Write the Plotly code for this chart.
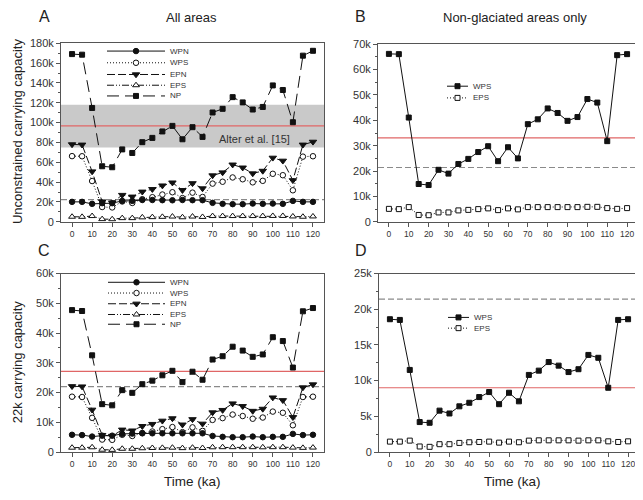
import plotly.graph_objects as go

# ---------------- data (values in thousands of individuals) ----------------
time_ka = [0, 5, 10, 15, 20, 25, 30, 35, 40, 45, 50, 55, 60, 65, 70, 75, 80, 85, 90, 95, 100, 105, 110, 115, 120]

# Unconstrained carrying capacity
unc_wpn = [20.1, 20.1, 18.1, 18.8, 18.8, 21.1, 21.1, 22.0, 22.0, 21.8, 21.7, 22.0, 21.8, 21.8, 19.1, 18.1, 17.8, 17.8, 18.4, 18.1, 18.4, 18.1, 21.1, 20.1, 20.1]
unc_wps = [66.2, 66.1, 41.1, 14.9, 14.5, 20.5, 19.0, 22.8, 24.8, 27.5, 29.8, 23.9, 29.4, 25.0, 38.5, 40.4, 44.7, 42.9, 39.8, 41.3, 48.4, 47.0, 31.8, 65.7, 66.1]
unc_epn = [78.0, 77.7, 50.7, 20.4, 19.4, 27.0, 25.3, 30.3, 32.9, 36.5, 39.5, 31.9, 38.8, 33.6, 46.7, 49.7, 57.6, 54.6, 48.7, 51.3, 64.5, 61.5, 41.8, 77.7, 80.6]
unc_eps = [5.1, 5.0, 5.8, 2.7, 2.6, 3.7, 3.7, 4.5, 4.7, 5.0, 5.3, 4.6, 5.3, 4.9, 5.8, 5.8, 5.8, 5.8, 5.8, 5.8, 5.9, 5.9, 5.4, 5.1, 5.4]
unc_np = [169.1, 168.5, 114.8, 56.0, 55.0, 73.0, 69.4, 80.3, 84.6, 91.1, 96.7, 83.2, 95.4, 85.6, 110.2, 113.9, 125.7, 120.4, 113.2, 115.8, 137.5, 132.9, 100.4, 167.5, 172.4]

# 22k carrying capacity
k22_wpn = [5.8, 5.7, 5.2, 5.5, 5.5, 6.1, 6.2, 6.3, 6.3, 6.3, 6.3, 6.3, 6.3, 6.3, 5.4, 5.1, 5.0, 5.0, 5.2, 5.0, 5.1, 5.1, 6.1, 5.7, 5.8]
k22_wps = [18.6, 18.5, 11.5, 4.2, 4.1, 5.8, 5.4, 6.4, 6.9, 7.7, 8.4, 6.7, 8.3, 7.1, 10.8, 11.4, 12.6, 12.1, 11.2, 11.6, 13.6, 13.2, 9.0, 18.5, 18.6]
k22_epn = [22.1, 22.0, 14.2, 5.7, 5.4, 7.5, 7.2, 8.7, 9.4, 10.5, 11.3, 9.2, 11.0, 9.5, 13.3, 14.1, 16.3, 15.4, 13.8, 14.5, 18.3, 17.4, 11.7, 21.7, 22.7]
k22_eps = [1.46, 1.46, 1.6, 0.78, 0.73, 1.1, 1.1, 1.28, 1.37, 1.41, 1.46, 1.32, 1.46, 1.37, 1.6, 1.64, 1.64, 1.64, 1.64, 1.6, 1.64, 1.64, 1.5, 1.41, 1.5]
k22_np = [47.7, 47.4, 32.5, 16.1, 15.7, 20.8, 19.9, 22.8, 24.0, 25.8, 27.3, 23.5, 27.0, 24.3, 31.1, 32.2, 35.4, 34.1, 32.0, 32.8, 38.6, 37.3, 28.4, 47.3, 48.4]

# reference levels (thousands)
alter_low = 75.0
alter_high = 118.0
ref_red = {"A": 96.8, "B": 33.1, "C": 27.1, "D": 9.0}
ref_dashed = {"A": 22.4, "B": 21.4, "C": 22.0, "D": 21.4}

y_max = {"A": 180, "B": 70, "C": 60, "D": 25}
y_dtick = {"A": 20, "B": 10, "C": 10, "D": 5}

K = 1000.0

def k(vals):
    return [v * K for v in vals]

# ---------------- layout helpers ----------------
# page is 643x500; browser body margin of 8px offsets the figure
PAGE_W, PAGE_H = 643, 500
OFF = 8
W, H = PAGE_W - OFF, PAGE_H - OFF
FONT = "Liberation Sans, Arial, Helvetica, sans-serif"
AX = "#555555"
INK = "#111111"

def px_x(x):
    return (x - OFF) / W

def px_y(y):
    return (H - (y - OFF)) / H

def xd(l, r):
    return [px_x(l), px_x(r)]

def yd(top, bottom):
    return [px_y(bottom), px_y(top)]

panels = {
    "A": dict(xa="x", ya="y", xdom=xd(61, 324), ydom=yd(38, 221)),
    "B": dict(xa="x2", ya="y2", xdom=xd(378, 638), ydom=yd(39, 221)),
    "C": dict(xa="x3", ya="y3", xdom=xd(61, 324), ydom=yd(274, 457)),
    "D": dict(xa="x4", ya="y4", xdom=xd(379, 639), ydom=yd(274, 457)),
}

styles = {
    "WPN": dict(line=dict(color=INK, width=1),
                marker=dict(symbol="circle", size=5.5, color=INK, line=dict(color=INK, width=1))),
    "WPS": dict(line=dict(color=INK, width=1, dash="1px,2px"),
                marker=dict(symbol="circle", size=5.5, color="white", line=dict(color=INK, width=1))),
    "EPN": dict(line=dict(color=INK, width=1, dash="8px,3px"),
                marker=dict(symbol="triangle-down", size=6.5, color=INK, line=dict(color=INK, width=1))),
    "EPS": dict(line=dict(color=INK, width=1, dash="7px,2px,1px,2px,1px,2px"),
                marker=dict(symbol="triangle-up", size=6, color="white", line=dict(color=INK, width=1))),
    "NP": dict(line=dict(color=INK, width=1, dash="12px,6px"),
               marker=dict(symbol="square", size=5, color=INK, line=dict(color=INK, width=1))),
    "WPS_ng": dict(line=dict(color=INK, width=1),
                   marker=dict(symbol="square", size=5, color=INK, line=dict(color=INK, width=1))),
    "EPS_ng": dict(line=dict(color=INK, width=1, dash="1px,2px"),
                   marker=dict(symbol="square", size=5, color="white", line=dict(color=INK, width=1))),
}

fig = go.Figure()

def add_series(panel, key, vals, name):
    p = panels[panel]
    st = styles[key]
    fig.add_trace(go.Scatter(x=time_ka, y=k(vals), mode="lines+markers", name=name,
                             line=st["line"], marker=st["marker"],
                             xaxis=p["xa"], yaxis=p["ya"], showlegend=False))

for panel, series in [
    ("A", [("NP", unc_np, "NP"), ("EPN", unc_epn, "EPN"), ("WPS", unc_wps, "WPS"), ("WPN", unc_wpn, "WPN"), ("EPS", unc_eps, "EPS")]),
    ("C", [("NP", k22_np, "NP"), ("EPN", k22_epn, "EPN"), ("WPS", k22_wps, "WPS"), ("WPN", k22_wpn, "WPN"), ("EPS", k22_eps, "EPS")]),
    ("B", [("WPS_ng", unc_wps, "WPS"), ("EPS_ng", unc_eps, "EPS")]),
    ("D", [("WPS_ng", k22_wps, "WPS"), ("EPS_ng", k22_eps, "EPS")]),
]:
    for key, vals, name in series:
        add_series(panel, key, vals, name)

# ---------------- custom legends on a pixel overlay axis ----------------
annotations = []

def legend_entry(xl, xr, ypx, label, key):
    st = styles[key]
    fig.add_trace(go.Scatter(x=[xl, xr], y=[ypx, ypx], mode="lines", line=st["line"],
                             xaxis="x5", yaxis="y5", showlegend=False, hoverinfo="skip"))
    fig.add_trace(go.Scatter(x=[(xl + xr) / 2], y=[ypx], mode="markers", marker=st["marker"],
                             xaxis="x5", yaxis="y5", showlegend=False, hoverinfo="skip"))
    annotations.append(dict(x=xr + 3, y=ypx, xref="x5", yref="y5", text=label, showarrow=False,
                            xanchor="left", yanchor="middle", font=dict(size=8, color="#333", family=FONT)))

for lab, key, ypx in [("WPN", "WPN", 46), ("WPS", "WPS", 58), ("EPN", "EPN", 70), ("EPS", "EPS", 81), ("NP", "NP", 92)]:
    legend_entry(107, 165, ypx, lab, key)
for lab, key, ypx in [("WPN", "WPN", 283), ("WPS", "WPS", 294), ("EPN", "EPN", 305), ("EPS", "EPS", 316), ("NP", "NP", 326)]:
    legend_entry(108, 165, ypx, lab, key)
for lab, key, ypx in [("WPS", "WPS_ng", 82), ("EPS", "EPS_ng", 94)]:
    legend_entry(447, 468, ypx, lab, key)
for lab, key, ypx in [("WPS", "WPS_ng", 319), ("EPS", "EPS_ng", 330)]:
    legend_entry(448, 469, ypx, lab, key)

# ---------------- reference shapes ----------------
shapes = []
pa = panels["A"]
shapes.append(dict(type="rect", xref=pa["xa"] + " domain", yref=pa["ya"], x0=0, x1=1,
                   y0=alter_low * K, y1=alter_high * K, fillcolor="#c9c9c9", line=dict(width=0), layer="below"))
for pn, p in panels.items():
    shapes.append(dict(type="line", xref=p["xa"] + " domain", yref=p["ya"], x0=0, x1=1,
                       y0=ref_dashed[pn] * K, y1=ref_dashed[pn] * K,
                       line=dict(color="#8a8a8a", width=1.2, dash="6px,3px"), layer="below"))
    shapes.append(dict(type="line", xref=p["xa"] + " domain", yref=p["ya"], x0=0, x1=1,
                       y0=ref_red[pn] * K, y1=ref_red[pn] * K,
                       line=dict(color="#e06666", width=1.2), layer="below"))

annotations.append(dict(x=91, y=83.5 * K, xref="x", yref="y", text="Alter et al. [15]", showarrow=False,
                        font=dict(size=11, color="#333", family=FONT)))

def txt(x, y, s, size, **kw):
    d = dict(x=px_x(x), y=px_y(y), xref="paper", yref="paper", text=s, showarrow=False,
             font=dict(size=size, color="#222", family=FONT), xanchor="center", yanchor="middle")
    d.update(kw)
    annotations.append(d)

txt(44, 11, "A", 16)
txt(191, 12, "All areas", 13)
txt(360, 11, "B", 16)
txt(515, 12, "Non-glaciated areas only", 13)
txt(44, 250, "C", 16)
txt(361, 250, "D", 16)
txt(192, 487, "Time (ka)", 13.5)
txt(512, 487, "Time (ka)", 13.5)
txt(17, 129, "Unconstrained carrying capacity", 13, textangle=-90)
txt(17, 365, "22k carrying capacity", 13, textangle=-90)

layout = dict(
    width=W, height=H, margin=dict(l=0, r=0, t=0, b=0),
    paper_bgcolor="white", plot_bgcolor="rgba(0,0,0,0)",
    font=dict(family=FONT, color="#222"),
    showlegend=False, shapes=shapes, annotations=annotations,
)

for pn, p in panels.items():
    xname = "xaxis" + p["xa"][1:]
    yname = "yaxis" + p["ya"][1:]
    layout[xname] = dict(domain=p["xdom"], anchor=p["ya"], range=[-5.5, 125.5],
                         tickmode="array", tickvals=list(range(0, 121, 10)),
                         ticks="outside", ticklen=4, tickcolor=AX, showline=True, linecolor=AX,
                         linewidth=1, mirror=True, showgrid=False, zeroline=False,
                         tickfont=dict(size=8.5, color="#333", family=FONT))
    layout[yname] = dict(domain=p["ydom"], anchor=p["xa"], range=[0, y_max[pn] * K],
                         dtick=y_dtick[pn] * K, tick0=0, tickformat="~s",
                         ticks="outside", ticklen=4, tickcolor=AX, showline=True, linecolor=AX,
                         linewidth=1, mirror=True, showgrid=False, zeroline=False,
                         minor=dict(ticks="outside", ticklen=2, tickcolor=AX, dtick=y_dtick[pn] * K / 2),
                         tickfont=dict(size=11, color="#333", family=FONT))

layout["xaxis5"] = dict(domain=[0, 1], anchor="y5", range=[OFF, PAGE_W], visible=False, fixedrange=True)
layout["yaxis5"] = dict(domain=[0, 1], anchor="x5", range=[PAGE_H, OFF], visible=False, fixedrange=True)

fig.update_layout(**layout)
fig.write_html("out.html")
